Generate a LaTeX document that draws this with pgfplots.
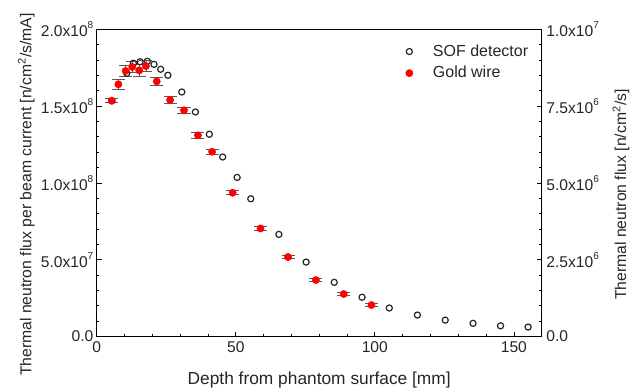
\documentclass[border=0pt]{standalone}
\usepackage{fontspec}
\setmainfont{Liberation Sans}
\usepackage{pgfplots}
\pgfplotsset{compat=1.18}
\pgfplotstableread{
x y
5.5 1.535
10.8 1.714
13.2 1.779
15.6 1.789
18.2 1.792
20.6 1.772
23.0 1.740
25.6 1.701
30.6 1.592
35.5 1.462
40.5 1.317
45.3 1.169
50.5 1.036
55.4 0.897
65.5 0.665
75.3 0.485
85.4 0.353
95.4 0.256
105.2 0.186
115.3 0.140
125.3 0.107
135.3 0.086
145.2 0.070
155.1 0.062
}\sof
\pgfplotstableread{
x y e
5.4 1.535 0.013
7.8 1.642 0.035
10.4 1.729 0.035
12.8 1.755 0.035
15.3 1.733 0.040
17.7 1.761 0.035
21.6 1.661 0.028
26.4 1.540 0.025
31.4 1.473 0.022
36.4 1.310 0.020
41.5 1.203 0.015
48.9 0.936 0.013
58.9 0.704 0.013
68.8 0.518 0.012
78.8 0.368 0.010
88.8 0.277 0.010
98.8 0.205 0.010
}\gold
\definecolor{txt}{gray}{0.15}
\newcommand{\sq}[1]{\raisebox{0.95ex}{\fontsize{7.5}{8}\selectfont #1}}
\begin{document}
\begin{tikzpicture}
\begin{axis}[
  scale only axis, width=333.75pt, height=230.4pt,
  xmin=0, xmax=160, ymin=0, ymax=2,
  xtick={0,50,100,150}, minor x tick num=4,
  ytick={0,0.5,1,1.5,2}, minor y tick num=4,
  yticklabels={0.0,{5.0x10\sq{7}},{1.0x10\sq{8}},{1.5x10\sq{8}},{2.0x10\sq{8}}},
  xtick pos=bottom, ytick pos=left, tick align=inside,
  major tick length=3.75pt, minor tick length=2pt,
  /pgf/number format/assume math mode=true,
  tick label style={font=\fontsize{11.7}{13}\selectfont, text=txt},
  yticklabel style={xshift=1pt},
  every tick/.style={black, line width=0.6pt},
  axis line style={line width=0.8pt},
  xlabel={Depth from phantom surface [mm]},
  ylabel={Thermal neutron flux per beam current [n/cm\textsuperscript{2}/s/mA]},
  xlabel style={font=\fontsize{13}{15}\selectfont, text=txt, at={(axis description cs:0.5,-0.142)}, anchor=center},
  ylabel style={font=\fontsize{11.8}{14}\selectfont, text=txt, at={(axis description cs:-0.158,0.462)}, anchor=center},
  legend style={at={(0.985,0.968)}, anchor=north east, draw=none, fill=none,
    font=\fontsize{12}{14}\selectfont, text=txt, row sep=2pt,
    /tikz/every odd column/.append style={column sep=13pt}},
  legend cell align=left,
]
\addplot[only marks, mark=o, mark size=2.3pt, draw=black!85, line width=0.9pt] table[x=x,y=y] {\sof};
\addlegendentry{SOF detector}
\addplot[only marks, mark=*, mark size=2.7pt, draw=red, fill=red,
  error bars/.cd, y dir=both, y explicit, error mark=|,
  error bar style={line width=0.6pt, black!65},
  error mark options={mark size=4.9pt, line width=0.6pt, black!65}]
  table[x=x,y=y,y error=e] {\gold};
\addlegendentry{Gold wire}
\end{axis}
\begin{axis}[
  scale only axis, width=333.75pt, height=230.4pt,
  xmin=0, xmax=160, ymin=0, ymax=10,
  hide x axis, axis y line*=right,
  ytick={0,2.5,5,7.5,10}, minor y tick num=4,
  yticklabels={0.0,{2.5x10\sq{6}},{5.0x10\sq{6}},{7.5x10\sq{6}},{1.0x10\sq{7}}},
  tick align=inside,
  major tick length=3.75pt, minor tick length=2pt,
  tick label style={font=\fontsize{11.7}{13}\selectfont, text=txt},
  every tick/.style={black, line width=0.6pt},
  axis line style={line width=0.8pt},
  ylabel={Thermal neutron flux [n/cm\textsuperscript{2}/s]},
  ylabel style={font=\fontsize{11.8}{14}\selectfont, text=txt, at={(axis description cs:1.178,0.462)}, anchor=center},
]
\end{axis}
\pgfresetboundingbox
\useasboundingbox (-72.5pt,-40.9pt) rectangle (403.7pt,252.4pt);
\end{tikzpicture}
\end{document}
